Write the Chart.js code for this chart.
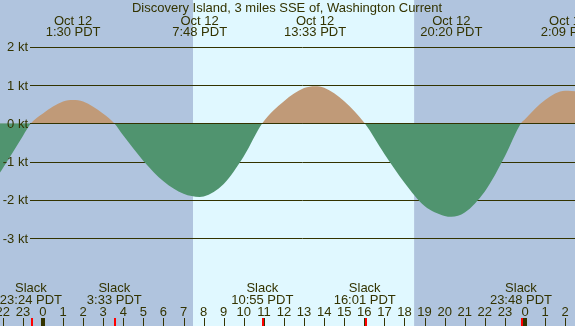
<!DOCTYPE html>
<html>
<head>
<meta charset="utf-8">
<script src="https://cdn.jsdelivr.net/npm/chart.js@4.4.0/dist/chart.umd.min.js"></script>
<style>
html, body { margin: 0; padding: 0; background: #b0c4de; overflow: hidden; }
canvas { display: block; }
</style>
</head>
<body>
<canvas id="current-chart" width="575" height="326"></canvas>
<script>
// hours from midnight Oct 12 (PDT), current in knots
const hours = [-2.2, -2, -1, -0.6, 0, 1, 1.5, 2, 3, 3.55, 4, 5, 6, 7, 7.8, 8, 9, 10, 10.92, 12, 13, 13.55, 14, 15, 16.02, 17, 18, 19, 20, 20.33, 21, 22, 23, 23.8, 24, 25, 26, 26.15, 26.6];
const knots = [-1.33, -1.17, -0.33, 0, 0.26, 0.57, 0.61, 0.57, 0.25, 0, -0.32, -0.98, -1.51, -1.84, -1.92, -1.91, -1.58, -0.86, 0, 0.58, 0.92, 0.97, 0.93, 0.58, 0, -0.8, -1.55, -2.16, -2.42, -2.44, -2.33, -1.78, -0.86, 0, 0.11, 0.61, 0.85, 0.85, 0.83];

const maxTimes = [1.5, 7.8, 13.55, 20.33, 26.15];
const maxDates = ["Oct 12", "Oct 12", "Oct 12", "Oct 12", "Oct 13"];
const maxLabels = ["1:30 PDT", "7:48 PDT", "13:33 PDT", "20:20 PDT", "2:09 PDT"];

const slackTimes = [-0.6, 3.55, 10.92, 16.02, 23.8];
const slackLabels = ["23:24 PDT", "3:33 PDT", "10:55 PDT", "16:01 PDT", "23:48 PDT"];

const ktTicks = [2, 1, 0, -1, -2, -3];
const hourTicks = [-2, -1, 0, 1, 2, 3, 4, 5, 6, 7, 8, 9, 10, 11, 12, 13, 14, 15, 16, 17, 18, 19, 20, 21, 22, 23, 24, 25, 26];

const sunrise = 7.47;
const sunset = 18.48;

const title = "Discovery Island, 3 miles SSE of, Washington Current";

const ink = "#333300";
const font = "13px 'Liberation Sans', Arial, sans-serif";

const tidePlugin = {
    id: 'tide',
    beforeDraw(chart) {
        const ctx = chart.ctx;
        const x = chart.scales.x;
        ctx.save();
        ctx.fillStyle = "#b0c4de";
        ctx.fillRect(0, 0, chart.width, chart.height);
        ctx.fillStyle = "#e0f8ff";
        const x0 = x.getPixelForValue(sunrise);
        const x1 = x.getPixelForValue(sunset);
        ctx.fillRect(x0, 0, x1 - x0, chart.height);
        ctx.restore();
    },
    beforeDatasetsDraw(chart) {
        const ctx = chart.ctx;
        const y = chart.scales.y;
        ctx.save();
        ctx.strokeStyle = ink;
        ctx.lineWidth = 1;
        ktTicks.forEach(k => {
            const py = Math.round(y.getPixelForValue(k)) + 0.5;
            ctx.beginPath();
            ctx.moveTo(30, py);
            ctx.lineTo(chart.width, py);
            ctx.stroke();
        });
        ctx.restore();
    },
    afterDatasetsDraw(chart) {
        const ctx = chart.ctx;
        const x = chart.scales.x;
        const y = chart.scales.y;
        ctx.save();
        ctx.strokeStyle = ink;
        ctx.fillStyle = ink;
        ctx.lineWidth = 1;

        const zy = Math.round(y.getPixelForValue(0)) + 0.5;
        ctx.beginPath();
        ctx.moveTo(30, zy);
        ctx.lineTo(chart.width, zy);
        ctx.stroke();

        ctx.font = font;
        ctx.textBaseline = 'alphabetic';

        ctx.textAlign = 'right';
        ktTicks.forEach(k => {
            const py = y.getPixelForValue(k);
            ctx.fillText(k + " kt", 28, py + 4.5);
        });

        ctx.textAlign = 'center';
        ctx.fillText(title, 287, 12);

        maxTimes.forEach((t, i) => {
            const px = x.getPixelForValue(t);
            ctx.fillText(maxDates[i], px, 24.5);
            ctx.fillText(maxLabels[i], px, 36);
        });

        slackTimes.forEach((t, i) => {
            const px = x.getPixelForValue(t);
            ctx.fillText("Slack", px, 291.5);
            ctx.fillText(slackLabels[i], px, 304);
        });

        hourTicks.forEach(h => {
            const px = x.getPixelForValue(h);
            const label = ((h % 24) + 24) % 24;
            ctx.fillText(String(label), px, 316);
            if (label === 0) {
                ctx.fillRect(Math.round(px) - 2, 318, 4, 8);
            } else {
                ctx.fillRect(Math.round(px), 318, 1, 8);
            }
        });

        ctx.fillStyle = "#ff0000";
        slackTimes.forEach(t => {
            const px = x.getPixelForValue(t);
            ctx.fillRect(Math.round(px), 318, 2, 8);
        });
        ctx.restore();
    }
};

const currentCanvas = document.getElementById("current-chart");

let currentData = {
    datasets: [{
        label: "Current (kt)",
        data: hours.map((h, i) => ({ x: h, y: knots[i] })),
        fill: {
            target: 'origin',
            above: "#c09a78",
            below: "#50946f"
        },
        borderWidth: 0,
        pointRadius: 0,
        cubicInterpolationMode: 'monotone'
    }]
};

let currentChart = new Chart(currentCanvas, {
    type: 'line',
    data: currentData,
    options: {
        responsive: false,
        animation: false,
        events: [],
        layout: { padding: 0 },
        plugins: {
            legend: { display: false },
            tooltip: { enabled: false }
        },
        scales: {
            x: { type: 'linear', min: -2.14, max: 26.49, display: false },
            y: { type: 'linear', min: -5.29, max: 3.22, display: false }
        }
    },
    plugins: [tidePlugin]
});
</script>
</body>
</html>
